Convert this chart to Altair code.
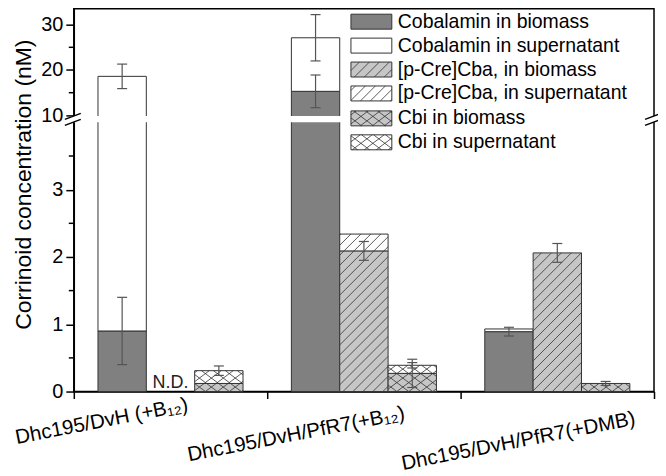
import altair as alt
import numpy as np
import pandas as pd

# ---------------- data ----------------
groups = ["Dhc195/DvH (+B₁₂)", "Dhc195/DvH/PfR7(+B₁₂)", "Dhc195/DvH/PfR7(+DMB)"]
components = ["Cobalamin in biomass", "Cobalamin in supernatant",
              "[p-Cre]Cba, in biomass", "[p-Cre]Cba, in supernatant",
              "Cbi in biomass", "Cbi in supernatant"]
fills = ["#808080", "#ffffff", "#c6c6c6", "#ffffff", "#c6c6c6", "#ffffff"]
patterns = ["", "", "/", "/", "x", "x"]

cob_bio = [0.90, 15.3, 0.89]
cob_sup = [17.7, 11.8, 0.04]
cba_bio = [None, 2.09, 2.06]      # None = N.D.
cba_sup = [None, 0.25, 0.0]
cbi_bio = [0.12, 0.27, 0.12]
cbi_sup = [0.19, 0.12, 0.0]

# error bar half-widths (biomass part / total)
cob_bio_err = [0.50, 3.6, 0.065]
cob_tot_err = [2.7, 5.1, None]
cba_bio_err = [None, 0.14, 0.14]
cbi_bio_err = [None, 0.21, 0.03]
cbi_tot_err = [0.07, 0.04, None]

y_major = [0, 1, 2, 3, 10, 20, 30]
y_minor = [0.5, 1.5, 2.5, 3.5, 15, 25]
x_ticks = [0, 4, 8, 12]

# ---------------- layout constants ----------------
W, H = 582, 384
Y_LOW_TOP, Y_UP_BOT = 114, 107          # pixel rows of value 4 and value 10
Y_BREAK_LO, Y_BREAK_HI, Y_MAX = 4.0, 10.0, 33.5
PX_X = W / 12.0
PX_Y = (H - Y_LOW_TOP) / Y_BREAK_LO


def px_to_x(px):
    return px / PX_X


def px_to_y(py):
    """inverse of the broken (piecewise) y scale, py measured from the top"""
    if py >= Y_LOW_TOP:
        return (H - py) / PX_Y
    if py >= Y_UP_BOT:
        return Y_BREAK_LO + (Y_LOW_TOP - py) / (Y_LOW_TOP - Y_UP_BOT) * (Y_BREAK_HI - Y_BREAK_LO)
    return Y_BREAK_HI + (Y_UP_BOT - py) / Y_UP_BOT * (Y_MAX - Y_BREAK_HI)


def hatch_segments(x0, x1, y0, y1, kind):
    """clip hatch lines (y-up pixel space) to a rectangle"""
    out = []
    if kind == "/":
        specs = [(1.0, 10.0)]
    elif kind == "x":
        specs = [(0.75, 9.0), (-0.75, 9.0)]
    else:
        return out
    for m, d in specs:
        if m > 0:
            cmin, cmax = y0 - m * x1, y1 - m * x0
        else:
            cmin, cmax = y0 - m * x0, y1 - m * x1
        for k in range(int(np.floor(cmin / d)), int(np.ceil(cmax / d)) + 1):
            c = k * d
            if m > 0:
                lo, hi = max(x0, (y0 - c) / m), min(x1, (y1 - c) / m)
            else:
                lo, hi = max(x0, (y1 - c) / m), min(x1, (y0 - c) / m)
            if hi - lo > 0.3:
                out.append((lo, m * lo + c, hi, m * hi + c))
    return out


# ---------------- build tables ----------------
slot_sets = [(cob_bio, cob_sup, 0), (cba_bio, cba_sup, 2), (cbi_bio, cbi_sup, 4)]
bar_rows, hatch_rows, nd_rows = [], [], []
for g in range(3):
    for k, (bio, sup, ci) in enumerate(slot_sets):
        xa = 4 * g + 0.5 + k
        if bio[g] is None:
            nd_rows.append(dict(xc=xa + 0.5, v=0.0, t="N.D."))
            continue
        parts = [(0.0, bio[g], ci)]
        if sup[g]:
            parts.append((bio[g], bio[g] + sup[g], ci + 1))
        for lo, hi, c in parts:
            bar_rows.append(dict(xa=xa, xb=xa + 1, lo=lo, hi=hi, comp=components[c]))
            if patterns[c] and hi <= Y_BREAK_LO:
                for p0, q0, p1, q1 in hatch_segments(xa * PX_X, (xa + 1) * PX_X,
                                                     lo * PX_Y, hi * PX_Y, patterns[c]):
                    hatch_rows.append(dict(hx=p0 / PX_X, hy=q0 / PX_Y,
                                           hx2=p1 / PX_X, hy2=q1 / PX_Y))

err_specs = [(0, cob_bio, None, cob_bio_err), (0, cob_bio, cob_sup, cob_tot_err),
             (1, cba_bio, None, cba_bio_err), (2, cbi_bio, None, cbi_bio_err),
             (2, cbi_bio, cbi_sup, cbi_tot_err)]
CAP = 5.0 / PX_X
err_rows, cap_rows = [], []
for k, bio, sup, err in err_specs:
    for g in range(3):
        if err[g] is None or bio[g] is None:
            continue
        centre = bio[g] + (sup[g] if sup is not None else 0.0)
        xc = 4 * g + 1 + k
        err_rows.append(dict(xc=xc, lo=centre - err[g], hi=centre + err[g]))
        for v in (centre - err[g], centre + err[g]):
            cap_rows.append(dict(ca=xc - CAP, cb=xc + CAP, v=v))

# custom legend (laid out in pixels inside the plot, mapped back through the scales)
LX0, LX1, LH, TX = 278, 319, 15, 325
rows_y = [13, 37, 61, 85, 110, 134]
leg_rows, leg_hatch = [], []
for i, c in enumerate(components):
    cy = rows_y[i]
    leg_rows.append(dict(lx=px_to_x(LX0), lx2=px_to_x(LX1),
                         ly=px_to_y(cy + LH / 2), ly2=px_to_y(cy - LH / 2),
                         tx=px_to_x(TX), ty=px_to_y(cy), comp=c))
    for p0, q0, p1, q1 in hatch_segments(LX0, LX1, -(cy + LH / 2), -(cy - LH / 2), patterns[i]):
        leg_hatch.append(dict(hx=px_to_x(p0), hy=px_to_y(-q0), hx2=px_to_x(p1), hy2=px_to_y(-q1)))

break_rows = []
for ax in (0, W):
    for off in (0, 6):
        break_rows.append(dict(bx=px_to_x(ax - 9), by=px_to_y(111 + off),
                               bx2=px_to_x(ax + 7), by2=px_to_y(105 + off)))

gap_df = pd.DataFrame({"gx": [px_to_x(-3)], "gx2": [px_to_x(W + 3)],
                       "gy": [Y_BREAK_LO], "gy2": [9.4]})
glab_df = pd.DataFrame({"gx": [4 * i + 2 for i in range(3)], "gy": [0.0] * 3, "g": groups})

bar_df = pd.DataFrame(bar_rows)
hatch_df = pd.DataFrame(hatch_rows)
nd_df = pd.DataFrame(nd_rows)
err_df = pd.DataFrame(err_rows)
cap_df = pd.DataFrame(cap_rows)
leg_df = pd.DataFrame(leg_rows)
leg_hatch_df = pd.DataFrame(leg_hatch)
break_df = pd.DataFrame(break_rows)
minor_df = pd.DataFrame({"m": y_minor})

# ---------------- scales / axes ----------------
xs = alt.Scale(domain=[0, 12], nice=False, zero=False)
ys = alt.Scale(domain=[0, Y_BREAK_LO, Y_BREAK_HI, Y_MAX], range=[H, Y_LOW_TOP, Y_UP_BOT, 0],
               nice=False, zero=False)
cs = alt.Scale(domain=components, range=fills)

x_axis = alt.Axis(
    values=x_ticks, labels=False, title=None, grid=False,
    tickSize=7, tickColor="black", tickWidth=1.5, domainColor="black", domainWidth=1.5,
)
y_axis = alt.Axis(
    values=y_major, grid=False,
    tickSize=8, tickColor="black", tickWidth=1.5, domainColor="black", domainWidth=1.5,
    labelFontSize=20, labelColor="black", labelPadding=3, labelOverlap=False, labelFlush=False,
    title="Corrinoid concentration (nM)", titleFontSize=23, titleFontWeight="normal",
    titleColor="black", titleX=-50, titleY=176, titleAngle=270, titleAlign="center",
    titleBaseline="middle",
)


def X(f):
    return alt.X(f, type="quantitative", scale=xs, axis=x_axis)


def Y(f):
    return alt.Y(f, type="quantitative", scale=ys, axis=y_axis)


bars = alt.Chart(bar_df).mark_rect(stroke="#333333", strokeWidth=1).encode(
    x=X("xa"), x2="xb", y=Y("lo"), y2="hi",
    fill=alt.Fill("comp:N", scale=cs, legend=None),
)
hatch = alt.Chart(hatch_df).mark_rule(color="#333333", strokeWidth=0.8).encode(
    x=X("hx"), x2="hx2", y=Y("hy"), y2="hy2")
nd = alt.Chart(nd_df).mark_text(baseline="alphabetic", dy=-4, fontSize=18, color="#222222").encode(
    x=X("xc"), y=Y("v"), text="t:N")
err = alt.Chart(err_df).mark_rule(color="#555555", strokeWidth=1.2).encode(
    x=X("xc"), y=Y("lo"), y2="hi")
caps = alt.Chart(cap_df).mark_rule(color="#555555", strokeWidth=1.2).encode(
    x=X("ca"), x2="cb", y=Y("v"))
minor = alt.Chart(minor_df).mark_rule(color="black", strokeWidth=1.5).encode(
    x=alt.value(-5), x2=alt.value(0), y=Y("m"))
gap = alt.Chart(gap_df).mark_rect(fill="white").encode(
    x=X("gx"), x2="gx2", y=Y("gy"), y2="gy2")
breaks = alt.Chart(break_df).mark_rule(color="black", strokeWidth=1.5).encode(
    x=X("bx"), x2="bx2", y=Y("by"), y2="by2")
leg_rect = alt.Chart(leg_df).mark_rect(stroke="#333333", strokeWidth=1).encode(
    x=X("lx"), x2="lx2", y=Y("ly"), y2="ly2",
    fill=alt.Fill("comp:N", scale=cs, legend=None))
leg_h = alt.Chart(leg_hatch_df).mark_rule(color="#333333", strokeWidth=0.8).encode(
    x=X("hx"), x2="hx2", y=Y("hy"), y2="hy2")
leg_text = alt.Chart(leg_df).mark_text(align="left", baseline="middle", fontSize=19.5, color="black").encode(
    x=X("tx"), y=Y("ty"), text="comp:N")

# rotated group labels under the x axis (screen offsets from group centre / axis line)
ANG = 349
label_shift = [(-69, 30), (-68, 43), (-39, 50)]
a = np.deg2rad(ANG)
group_labels = []
for i in range(3):
    vx, vy = label_shift[i]
    ddx = np.cos(a) * vx + np.sin(a) * vy
    ddy = -np.sin(a) * vx + np.cos(a) * vy
    group_labels.append(
        alt.Chart(glab_df.iloc[[i]]).mark_text(
            angle=ANG, align="center", baseline="middle", fontSize=20.5, color="black",
            dx=float(ddx), dy=float(ddy),
        ).encode(x=X("gx"), y=Y("gy"), text="g:N")
    )

chart = alt.layer(bars, hatch, nd, err, caps, minor, gap, breaks, leg_rect, leg_h, leg_text,
                  *group_labels).properties(
    width=W, height=H,
    autosize=alt.AutoSizeParams(type="none"),
    padding={"left": 66, "top": 0, "right": 4, "bottom": 84},
).configure(font="Liberation Sans").configure_view(stroke="black", strokeWidth=1.5)

chart.save("out.html", embed_options={"renderer": "svg", "actions": False})
